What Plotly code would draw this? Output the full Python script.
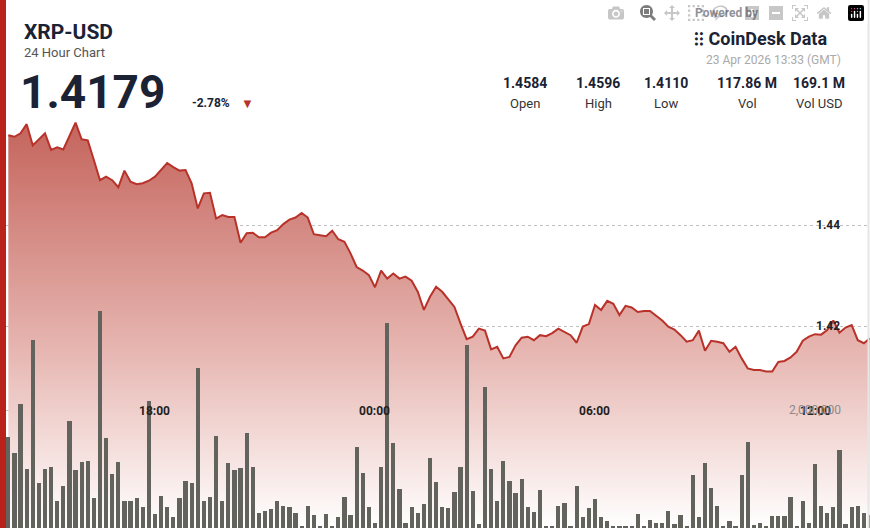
import plotly.graph_objects as go
import pandas as pd

price = [1.4578,1.4575,1.4582,1.4600,1.4558,1.4570,1.4582,1.4549,1.4554,1.4550,
 1.4575,1.4603,1.4570,1.4568,1.4529,1.4489,1.4496,1.4489,1.4475,1.4508,
 1.4486,1.4481,1.4483,1.4488,1.4496,1.4510,1.4523,1.4515,1.4508,1.4509,
 1.4483,1.4433,1.4463,1.4464,1.4413,1.4420,1.4416,1.4416,1.4365,1.4384,
 1.4385,1.4376,1.4376,1.4385,1.4390,1.4402,1.4411,1.4415,1.4424,1.4415,
 1.4382,1.4380,1.4378,1.4389,1.4372,1.4367,1.4344,1.4317,1.4310,1.4301,
 1.4277,1.4310,1.4294,1.4304,1.4294,1.4298,1.4290,1.4268,1.4232,1.4258,
 1.4278,1.4268,1.4252,1.4238,1.4205,1.4174,1.4179,1.4195,1.4191,1.4154,
 1.4159,1.4136,1.4139,1.4162,1.4177,1.4179,1.4172,1.4182,1.4180,1.4186,
 1.4195,1.4189,1.4182,1.4167,1.4199,1.4204,1.4242,1.4232,1.4250,1.4244,
 1.4222,1.4240,1.4237,1.4228,1.4230,1.4230,1.4220,1.4211,1.4199,1.4193,
 1.4182,1.4169,1.4172,1.4191,1.4151,1.4171,1.4169,1.4166,1.4149,1.4159,
 1.4136,1.4116,1.4113,1.4113,1.4110,1.4110,1.4129,1.4131,1.4138,1.4149,
 1.4171,1.4179,1.4184,1.4183,1.4192,1.4211,1.4187,1.4197,1.4202,1.4172,
 1.4166,1.4176]

volume_m = [1.55,1.27,2.10,1.00,3.19,0.76,1.00,1.03,0.46,0.71,
 1.81,0.98,1.12,1.13,0.51,3.68,1.53,0.92,1.12,0.46,
 0.45,0.51,0.36,2.15,0.24,0.54,0.36,0.19,0.51,0.80,
 0.76,2.71,0.46,0.53,1.56,0.46,1.10,0.98,1.02,1.61,
 1.03,0.25,0.29,0.33,0.46,0.38,0.36,0.25,0.03,0.38,
 0.22,0.03,0.24,0.03,0.19,0.53,0.22,1.37,0.93,0.35,
 0.08,1.03,3.47,1.44,0.66,0.08,0.36,0.25,0.40,1.19,
 0.78,0.36,0.34,0.61,1.03,3.10,0.62,0.06,2.39,1.00,
 0.46,1.13,0.79,0.60,0.83,0.36,0.27,0.65,0.02,0.02,
 0.38,0.42,0.04,0.71,0.18,0.34,0.49,0.18,0.12,0.03,
 0.02,0.03,0.02,0.24,0.02,0.13,0.09,0.09,0.29,0.07,
 0.22,0.02,0.90,0.18,1.10,0.68,0.38,0.02,0.12,0.02,
 0.89,1.46,0.05,0.08,0.02,0.21,0.21,0.21,0.53,0.02,
 0.45,0.08,1.08,0.38,0.25,0.36,1.32,0.06,0.36,0.38,
 0.26,0.22]

times = pd.date_range("2026-04-22 14:00", periods=len(price), freq="10min")
vol = [v * 1e6 for v in volume_m]

price_ticks = [1.42, 1.44]
time_ticks = ["2026-04-22 18:00", "2026-04-23 00:00", "2026-04-23 06:00", "2026-04-23 12:00"]
time_labels = ["18:00", "00:00", "06:00", "12:00"]
stats_vals = ["1.4584", "1.4596", "1.4110", "117.86 M", "169.1 M"]
stats_labels = ["Open", "High", "Low", "Vol", "Vol USD"]

W, H = 870, 528
PMIN, PMAX = 1.38, 1.4846
fig = go.Figure()
fig.add_trace(go.Scatter(x=times, y=[PMIN] * len(times), mode="lines", line_width=0,
                         yaxis="y", showlegend=False, hoverinfo="skip"))
fig.add_trace(go.Scatter(x=times, y=price, mode="lines", yaxis="y",
                         line=dict(color="#b8322a", width=2),
                         fill="tonexty",
                         fillgradient=dict(type="vertical",
                                           colorscale=[[0, "rgba(255,255,255,1)"],
                                                       [0.45, "rgba(230,180,175,1)"],
                                                       [1, "rgba(196,100,92,1)"]])))
fig.add_trace(go.Bar(x=times, y=vol, width=7 * 60 * 1000, marker_color="rgb(98,99,92)",
                     marker_line_width=0, yaxis="y2"))

fig.update_layout(
    width=W, height=H, margin=dict(l=0, r=0, t=0, b=0), showlegend=False,
    paper_bgcolor="white", plot_bgcolor="white", bargap=0,
    xaxis=dict(range=["2026-04-22 13:46:24", "2026-04-23 13:30"], showgrid=False,
               showticklabels=False, zeroline=False),
    yaxis=dict(range=[PMIN, PMAX], tickvals=price_ticks,
               showticklabels=False, gridcolor="rgba(150,150,150,0.6)",
               griddash="dot", zeroline=False),
    yaxis2=dict(range=[0, 8.95e6], overlaying="y", tickvals=[2e6], showticklabels=False,
                gridcolor="rgba(150,150,150,0.6)", griddash="dot", zeroline=False),
)

def px(x, y):
    return x / W, 1 - y / H

ann = []
def add(x, y, text, size, color="#1a2233", bold=False, xanchor="left", family="Roboto"):
    ax, ay = px(x, y)
    ann.append(dict(x=ax, y=ay, xref="paper", yref="paper", text=f"<b>{text}</b>" if bold else text,
                    showarrow=False, xanchor=xanchor, yanchor="middle",
                    font=dict(size=size, color=color, family=family)))

add(22, 32, "XRP-USD", 21, bold=True)
add(22, 53, "24 Hour Chart", 13, color="#555")
add(18, 92, "1.4179", 46, bold=True)
add(190, 103, "-2.78%", 12, bold=True)
add(239, 103, "▼", 13, color="#b8322a")
add(693, 13, "Powered by", 12, bold=True)
add(692, 39, "⁝⁝ CoinDesk Data", 18, bold=True)
add(843, 60, "23 Apr 2026 13:33 (GMT)", 12, color="#aaaaaa", xanchor="right")
centers = [525, 598, 666, 747, 819]
for cx, v, l in zip(centers, stats_vals, stats_labels):
    add(cx, 83, v, 14, bold=True, xanchor="center")
    add(cx, 103, l, 13, color="#333", xanchor="center")
for t, lab in zip(time_ticks, time_labels):
    ann.append(dict(x=t, y=1 - 420 / H, xref="x", yref="paper", text=f"<b>{lab}</b>",
                    showarrow=False, font=dict(size=12, color="#222", family="Roboto")))
for v, yy in zip(price_ticks, [326, 225]):
    add(842, yy, f"<b>{v:.2f}</b>", 12, color="#222", xanchor="right")
add(843, 410, "2,000,000", 12, color="#8a8a8a", xanchor="right")
fig.update_layout(annotations=ann)
fig.add_shape(type="rect", xref="paper", yref="paper", x0=0, x1=6 / W, y0=0, y1=1,
              fillcolor="#b8221a", line_width=0, layer="above")
fig.add_shape(type="line", xref="paper", yref="paper", x0=1 - 1.5 / W, x1=1 - 1.5 / W, y0=0, y1=1,
              line=dict(color="#e6e6e6", width=2), layer="above")
fig.write_html("out.html", post_script="document.body.style.margin='0';")
